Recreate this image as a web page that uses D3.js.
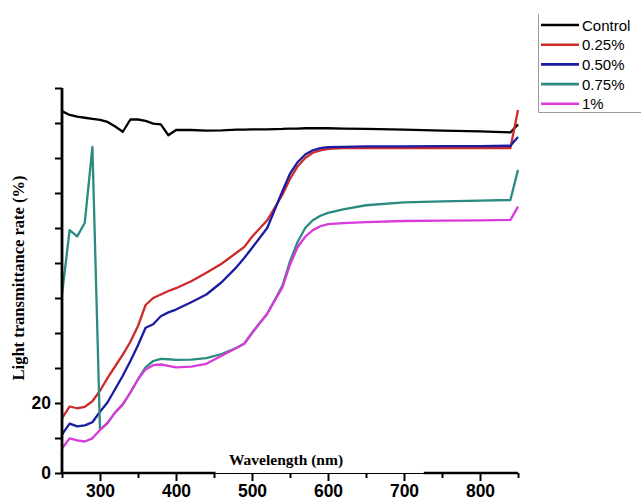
<!DOCTYPE html>
<html lang="en">
    <head>
        <meta charset="utf-8">
        <script src="https://d3js.org/d3.v7.min.js"></script>
        <title>Light transmittance</title>
        <style>
            body { margin: 0px; background-color: #ffffff; }
            svg { display: block; }
        </style>
    </head>
    <body>
        <svg id="main" width="641" height="502"></svg>
        <script>

        // wavelength grid (nm)
        const wavelength = [250, 260, 270, 280, 290, 300, 310, 320, 330, 340, 350, 360, 370, 380, 390, 400,
            420, 440, 460, 480, 490, 500, 520, 540, 550, 560, 570, 580, 590, 600, 620, 650, 700, 750, 800, 840, 850];

        const control = [103.4, 102.3, 101.8, 101.5, 101.2, 100.9, 100.3, 99, 97.5, 101, 101, 100.6, 99.8, 99.6, 96.5, 98,
            98, 97.8, 97.9, 98.1, 98.1, 98.2, 98.2, 98.3, 98.4, 98.4, 98.5, 98.5, 98.5, 98.5, 98.4, 98.3, 98.1, 97.8, 97.6, 97.3, 99.6];
        const p025 = [15.6, 19.0, 18.5, 18.9, 20.5, 23.5, 27.2, 30.5, 33.8, 37.5, 42, 48, 50, 51, 52, 52.8,
            54.8, 57.2, 59.8, 63, 64.6, 67.5, 72.2, 79.5, 84, 87.6, 90, 91.5, 92.2, 92.6, 92.8, 92.8, 92.8, 92.8, 92.8, 92.8, 103.7];
        const p050 = [11, 14.1, 13.3, 13.6, 14.5, 17.5, 20.2, 24, 27.8, 32, 36.5, 41.5, 42.5, 44.8, 45.9, 46.7,
            48.8, 51, 54.5, 58.9, 61.5, 64.3, 70, 80.5, 85.5, 88.8, 91, 92.2, 92.8, 93.1, 93.2, 93.3, 93.3, 93.4, 93.4, 93.5, 96];
        const p075 = [51, 69.4, 67.6, 71.5, 93.2, 12.3, 14.3, 17.3, 19.6, 23, 26.8, 30.2, 32, 32.6, 32.5, 32.3,
            32.4, 32.8, 34, 35.8, 37, 40, 45.5, 53.5, 60.5, 66, 70, 72.2, 73.5, 74.3, 75.3, 76.5, 77.3, 77.6, 77.8, 78, 86.6];
        const p100 = [7, 9.9, 9.3, 9.0, 9.9, 12.3, 14.3, 17.3, 19.6, 23, 26.8, 29.6, 30.8, 31, 30.6, 30.2,
            30.4, 31.2, 33.5, 35.8, 37, 40, 45.5, 53, 59.5, 64.5, 67.5, 69.4, 70.5, 71.1, 71.4, 71.7, 72.0, 72.1, 72.2, 72.3, 76.1];

        const seriesNames = ['Control', '0.25%', '0.50%', '0.75%', '1%'];
        const seriesValues = [control, p025, p050, p075, p100];
        const lineColors = ['#000000', '#cc2b2b', '#1b1ba3', '#2b8a82', '#d93ad9'];

        const xTicks = [250, 300, 350, 400, 450, 500, 550, 600, 650, 700, 750, 800, 850];
        const xLabels = [300, 400, 500, 600, 700, 800];
        const yTicks = [0, 10, 20, 30, 40, 50, 60, 70, 80, 90, 100, 110];
        const yLabels = [0, 20];

        let svg = d3.select('svg#main');

        let x = d3.scaleLinear().domain([250, 850]).range([62, 518]);
        let y = d3.scaleLinear().domain([0, 110]).range([473, 88]);

        // lines
        let line = d3.line()
            .x((d, i) => x(wavelength[i]))
            .y(d => y(d));

        svg.selectAll('path.series')
            .data(seriesValues)
            .enter()
            .append('path')
            .attr('class', 'series')
            .attr('fill', 'none')
            .attr('stroke', (d, i) => lineColors[i])
            .attr('stroke-width', 2.3)
            .attr('stroke-linejoin', 'round')
            .attr('d', line);

        // y axis
        let yAxis = svg.append('g')
            .attr('transform', 'translate(' + x(250) + ',0)')
            .call(d3.axisLeft(y).tickValues(yTicks).tickSize(7)
                .tickFormat(d => yLabels.includes(d) ? d : ''));
        yAxis.select('.domain').attr('stroke-width', 2.8).attr('d', 'M0,' + y(0) + 'V' + y(110));
        yAxis.selectAll('.tick line').attr('stroke-width', 2);
        yAxis.selectAll('.tick text')
            .attr('x', -11)
            .style('font-family', 'Liberation Sans, Arial, sans-serif')
            .style('font-weight', 'bold')
            .style('font-size', '17.5px');

        // x axis
        let xAxis = svg.append('g')
            .attr('transform', 'translate(0,' + y(0) + ')')
            .call(d3.axisBottom(x).tickValues(xTicks).tickSizeOuter(0)
                .tickFormat(d => xLabels.includes(d) ? d : ''));
        xAxis.select('.domain').attr('stroke-width', 1.2);
        xAxis.selectAll('.tick line')
            .attr('stroke-width', 2)
            .attr('y2', d => xLabels.includes(d) ? 8 : 5);
        xAxis.selectAll('.tick text')
            .attr('y', 12)
            .style('font-family', 'Liberation Sans, Arial, sans-serif')
            .style('font-weight', 'bold')
            .style('font-size', '17.5px');

        // thicker outer pieces of the x axis line
        [[250, 452], [726, 850]].forEach(seg => {
            svg.append('line')
                .attr('x1', x(seg[0])).attr('x2', x(seg[1]))
                .attr('y1', y(0)).attr('y2', y(0))
                .attr('stroke', '#000').attr('stroke-width', 2.6);
        });

        // axis titles
        svg.append('text')
            .attr('x', 286).attr('y', 465)
            .attr('text-anchor', 'middle')
            .style('font-family', 'Liberation Serif, Times New Roman, serif')
            .style('font-weight', 'bold')
            .style('font-size', '15.5px')
            .text('Wavelength (nm)');

        svg.append('text')
            .attr('transform', 'translate(24,278) rotate(-90)')
            .attr('text-anchor', 'middle')
            .style('font-family', 'Liberation Serif, Times New Roman, serif')
            .style('font-weight', 'bold')
            .style('font-size', '16.5px')
            .text('Light transmittance rate (%)');

        // legend
        svg.append('path')
            .attr('d', 'M538.5,14V112.5H641')
            .attr('fill', 'none')
            .attr('stroke', '#9a9a9a')
            .attr('stroke-width', 1);

        let legend = svg.selectAll('.legendItem')
            .data(seriesNames)
            .enter().append('g')
            .attr('class', 'legendItem')
            .attr('transform', (d, i) => 'translate(541,' + (25 + i * 19.7) + ')');

        legend.append('line')
            .attr('x1', 0).attr('x2', 38)
            .attr('stroke', (d, i) => lineColors[i])
            .attr('stroke-width', 2.6);

        legend.append('text')
            .attr('x', 41).attr('y', 5.5)
            .style('font-family', 'Liberation Sans, Arial, sans-serif')
            .style('font-size', '15px')
            .text(d => d);

        </script>
    </body>
</html>
